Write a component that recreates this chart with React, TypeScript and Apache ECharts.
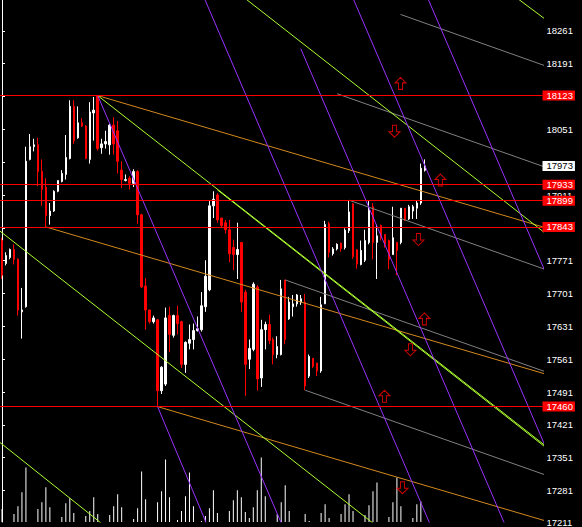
import React, { useEffect, useRef } from "react";
import * as echarts from "echarts";

const SLOT_COUNT = 136;
const categories: string[] = Array.from({ length: SLOT_COUNT }, (_, i) => `${i}`);

// [open, close, low, high]
const candles: number[][] = [
  [17814, 17740, 17732, 17820], [17765, 17782, 17761, 17789], [17778, 17795, 17774, 17797], [17795, 17774, 17763, 17806],
  [17774, 17666, 17654, 17776], [17662, 17666, 17605, 17713], [17673, 17983, 17671, 18014], [17987, 18014, 17985, 18041],
  [18014, 18018, 18004, 18031], [18018, 17961, 17930, 18033], [17961, 17923, 17888, 17987], [17928, 17867, 17843, 17947],
  [17867, 17877, 17848, 17894], [17877, 17919, 17875, 17921], [17919, 17942, 17917, 17942], [17940, 17957, 17938, 17964],
  [17955, 17991, 17944, 18039], [17989, 18100, 17987, 18113], [18100, 18027, 18020, 18113], [18033, 18065, 18031, 18100],
  [18065, 18058, 18056, 18075], [18058, 17989, 17987, 18060], [17987, 18088, 17978, 18109], [18086, 18092, 18027, 18120],
  [18122, 18010, 18006, 18123], [18012, 18020, 17999, 18031], [18020, 18025, 18010, 18048], [18018, 18060, 17997, 18063],
  [18060, 18020, 17997, 18077], [18048, 17983, 17957, 18069], [17964, 17944, 17926, 17983], [17942, 17944, 17940, 17955],
  [17947, 17936, 17923, 17951], [17936, 17961, 17928, 17966], [17961, 17869, 17850, 17964], [17869, 17715, 17713, 17871],
  [17717, 17666, 17624, 17734], [17666, 17641, 17637, 17666], [17641, 17649, 17637, 17654], [17645, 17494, 17460, 17647],
  [17494, 17544, 17487, 17546], [17508, 17649, 17504, 17671], [17654, 17614, 17576, 17673], [17612, 17654, 17607, 17656],
  [17654, 17637, 17614, 17675], [17641, 17550, 17542, 17643], [17550, 17597, 17532, 17599], [17595, 17603, 17582, 17635],
  [17603, 17622, 17582, 17637], [17622, 17626, 17620, 17652], [17624, 17675, 17620, 17704], [17673, 17738, 17662, 17772],
  [17709, 17888, 17706, 17898], [17888, 17902, 17862, 17919], [17911, 17858, 17852, 17915], [17862, 17846, 17841, 17862],
  [17852, 17837, 17829, 17858], [17837, 17786, 17768, 17858], [17799, 17784, 17751, 17816], [17784, 17795, 17732, 17852],
  [17810, 17683, 17662, 17810], [17704, 17550, 17483, 17709], [17561, 17584, 17540, 17603], [17582, 17721, 17578, 17725],
  [17715, 17519, 17494, 17719], [17521, 17624, 17502, 17645], [17624, 17635, 17582, 17641], [17635, 17601, 17593, 17656],
  [17603, 17571, 17550, 17607], [17571, 17588, 17563, 17610], [17571, 17711, 17569, 17730], [17730, 17603, 17593, 17730],
  [17647, 17683, 17645, 17694], [17673, 17679, 17652, 17698], [17679, 17698, 17673, 17700], [17683, 17690, 17677, 17698],
  [17683, 17504, 17495, 17700], [17525, 17567, 17521, 17571], [17563, 17546, 17542, 17563], [17553, 17536, 17525, 17553],
  [17536, 17677, 17532, 17694], [17679, 17848, 17679, 17856], [17850, 17789, 17778, 17854], [17786, 17796, 17782, 17800],
  [17796, 17806, 17793, 17808], [17808, 17797, 17790, 17810], [17799, 17836, 17795, 17840], [17835, 17875, 17830, 17900],
  [17892, 17780, 17775, 17894], [17794, 17764, 17754, 17796], [17763, 17793, 17761, 17814], [17772, 17814, 17768, 17837],
  [17810, 17879, 17806, 17898], [17886, 17810, 17774, 17894], [17810, 17824, 17732, 17848], [17846, 17820, 17814, 17848],
  [17827, 17806, 17799, 17827], [17814, 17774, 17753, 17816], [17784, 17820, 17784, 17886], [17810, 17793, 17740, 17810],
  [17810, 17883, 17806, 17883], [17883, 17858, 17856, 17883], [17860, 17886, 17858, 17890], [17877, 17886, 17860, 17890],
  [17883, 17894, 17860, 17900], [17894, 17968, 17890, 17978], [17964, 17973, 17961, 17987],
];

const volumes: number[] = [
  260, 100, 100, 210, 290, 430, 680, 100, 100, 260, 330, 480, 280, 100, 100, 180, 320, 370, 220, 100,
  100, 190, 240, 380, 210, 100, 100, 200, 290, 410, 280, 100, 100, 160, 270, 640, 360, 100, 100, 330,
  440, 760, 380, 100, 150, 240, 390, 630, 290, 100, 140, 190, 270, 450, 220, 100, 100, 240, 350, 450,
  380, 230, 170, 280, 450, 780, 390, 100, 100, 210, 330, 500, 240, 100, 100, 100, 210, 140, 100, 100,
  220, 310, 170, 100, 100, 210, 310, 410, 240, 100, 100, 200, 300, 440, 530, 100, 100, 180, 330, 580,
  290, 100, 100, 170, 310, 340, 100,
];

const levels: number[] = [18123, 17933, 17899, 17843, 17460];
const currentPrice = 17973;

const PRICE_MIN = 17214;
const PRICE_MAX = 18326.76;
const axisTickValues: number[] = [18261, 18191, 18121, 18051, 17981, 17911, 17841, 17771, 17701, 17631, 17561, 17491, 17421, 17351, 17281];
const axisLabelValues: number[] = [18261, 18191, 18051, 17911, 17771, 17701, 17631, 17561, 17491, 17421, 17351, 17281, PRICE_MIN];
const bottomLabelText = "17211";

// trend lines: [[barIndex, price], [barIndex, price]]
const purpleTrend: number[][][] = [
  [[24, 18123], [80, 17014]],
  [[39, 17460], [60, 17033]],
  [[40, 18543], [120, 16958]],
  [[74.9, 18223], [135.5, 17022]],
  [[80, 18489], [140, 17300]],
  [[100, 18464], [140, 17672]],
];
const greenTrend: number[][][] = [
  [[24, 18123], [136, 17378]],
  [[54, 17922], [136, 17375]],
  [[50, 18403], [136, 17831]],
  [[125, 18357], [136, 18287]],
  [[-5, 17864], [100, 17165]],
  [[-5, 17414], [40, 17109]],
];
const orangeTrend: number[][][] = [
  [[24, 18123], [136, 17842]],
  [[11, 17843], [136, 17530]],
  [[39, 17460], [136, 17217]],
];
const grayTrend: number[][][] = [
  [[99.9, 18296], [136, 18187]],
  [[84, 18127], [136, 17971]],
  [[87, 17900], [136, 17753]],
  [[71, 17730], [136, 17535]],
  [[76, 17495], [136, 17315]],
];

const upArrows: number[][] = [[99.9, 18149], [109.9, 17943], [105.9, 17647], [95.9, 17482]];
const downArrows: number[][] = [[98.4, 18047], [104.4, 17816], [102.4, 17581], [100.4, 17287]];

const FONT = "'Liberation Sans', Arial, sans-serif";
const PURPLE = "#9932FF";
const GREEN = "#ADFF2F";
const ORANGE = "#D2891E";
const GRAY = "#808080";
const RED = "#ff0000";

function trendSeries(lines: number[][][], color: string, z: number) {
  return lines.map((pts) => ({
    type: "line",
    xAxisIndex: 1,
    yAxisIndex: 0,
    data: pts,
    symbol: "none",
    showSymbol: false,
    clip: true,
    silent: true,
    z,
    lineStyle: { color, width: 1 },
  }));
}

export default function App() {
  const ref = useRef<HTMLDivElement>(null);
  useEffect(() => {
    if (!ref.current) return;
    const chart = echarts.init(ref.current, null, { renderer: "svg", width: 582, height: 527 });
    const boxLabel = {
      show: true,
      position: "end",
      distance: 0,
      formatter: (p: any) => String(p.value),
      color: "#ffffff",
      backgroundColor: RED,
      fontSize: 9.5,
      fontFamily: FONT,
      lineHeight: 10,
      padding: [0, 2, 0, 4],
    };
    const option: any = {
      animation: false,
      backgroundColor: "#000000",
      grid: [{ left: -1.5, top: 0, width: 544, height: 527, containLabel: false }],
      xAxis: [
        { type: "category", gridIndex: 0, data: categories, show: false, boundaryGap: true },
        { type: "value", gridIndex: 0, min: -0.5, max: 135.5, show: false },
      ],
      yAxis: [
        {
          type: "value",
          gridIndex: 0,
          position: "right",
          offset: -1,
          min: PRICE_MIN,
          max: PRICE_MAX,
          splitLine: { show: false },
          axisLine: { show: true, lineStyle: { color: "#ffffff", width: 1 } },
          axisTick: { show: true, length: 3, lineStyle: { color: "#ffffff" }, customValues: axisTickValues },
          axisLabel: {
            show: true,
            customValues: axisLabelValues,
            color: "#ffffff",
            fontSize: 9.5,
            fontFamily: FONT,
            margin: 5,
            formatter: (v: number) => (v === PRICE_MIN ? bottomLabelText : String(v)),
          },
        },
        { type: "value", gridIndex: 0, min: 130, max: 5400, show: false },
      ],
      series: [
        {
          type: "bar",
          xAxisIndex: 0,
          yAxisIndex: 1,
          data: volumes,
          barWidth: 1,
          silent: true,
          z: 1,
          itemStyle: { color: "#ffffff", borderWidth: 0 },
        },
        {
          type: "candlestick",
          xAxisIndex: 0,
          yAxisIndex: 0,
          data: candles,
          barWidth: 2,
          silent: true,
          z: 2,
          itemStyle: {
            color: "#ffffff",
            color0: RED,
            borderColor: "#ffffff",
            borderColor0: RED,
            borderWidth: 1,
          },
        },
        ...trendSeries(grayTrend, GRAY, 3),
        ...trendSeries(orangeTrend, ORANGE, 3),
        ...trendSeries(greenTrend, GREEN, 3),
        ...trendSeries(purpleTrend, PURPLE, 3),
        {
          type: "line",
          xAxisIndex: 0,
          yAxisIndex: 0,
          data: [],
          z: 6,
          silent: true,
          markLine: {
            silent: true,
            animation: false,
            symbol: ["none", "none"],
            lineStyle: { color: RED, width: 1, type: "solid" },
            label: boxLabel,
            emphasis: { disabled: true },
            data: [
              ...levels.map((v) => ({ yAxis: v })),
              {
                yAxis: currentPrice,
                lineStyle: { width: 0, color: "rgba(0,0,0,0)" },
                label: { ...boxLabel, color: "#000000", backgroundColor: "#ffffff" },
              },
            ],
          },
        },
        {
          type: "scatter",
          xAxisIndex: 1,
          yAxisIndex: 0,
          data: upArrows,
          symbol: "path://M5.5,0 L11,5.5 L7.5,5.5 L7.5,12 L3.5,12 L3.5,5.5 L0,5.5 Z",
          symbolSize: [11, 12],
          silent: true,
          z: 7,
          itemStyle: { color: "rgba(0,0,0,0)", borderColor: RED, borderWidth: 1 },
        },
        {
          type: "scatter",
          xAxisIndex: 1,
          yAxisIndex: 0,
          data: downArrows,
          symbol: "path://M3.5,0 L7.5,0 L7.5,6.5 L11,6.5 L5.5,12 L0,6.5 L3.5,6.5 Z",
          symbolSize: [11, 12],
          silent: true,
          z: 7,
          itemStyle: { color: "rgba(0,0,0,0)", borderColor: RED, borderWidth: 1 },
        },
      ],
    };
    chart.setOption(option);
    return () => chart.dispose();
  }, []);
  return (
    <div
      ref={ref}
      style={{ position: "fixed", left: 0, top: 0, width: 582, height: 527, background: "#000" }}
    />
  );
}
